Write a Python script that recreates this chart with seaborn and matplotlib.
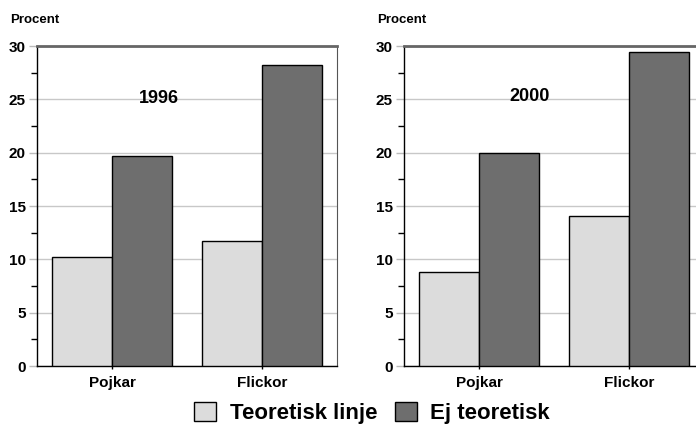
import matplotlib
matplotlib.use("Agg")
import matplotlib.pyplot as plt
from matplotlib.patches import Patch
from matplotlib.ticker import MultipleLocator
import pandas as pd
import seaborn as sns

groups = ["Pojkar", "Flickor"]
series = ["Teoretisk linje", "Ej teoretisk"]
years = ["1996", "2000"]
values_1996 = {"Teoretisk linje": [10.2, 11.7], "Ej teoretisk": [19.7, 28.2]}
values_2000 = {"Teoretisk linje": [8.8, 14.1], "Ej teoretisk": [20.0, 29.4]}
colors = ["#dcdcdc", "#6e6e6e"]
yticks = [0, 5, 10, 15, 20, 25, 30]

sns.set_theme(style="white")
plt.rcParams["font.family"] = ["Liberation Sans", "DejaVu Sans"]
plt.rcParams["font.weight"] = "bold"
plt.rcParams["text.color"] = "black"
plt.rcParams["xtick.color"] = "black"
plt.rcParams["ytick.color"] = "black"
plt.rcParams["xtick.labelcolor"] = "black"
plt.rcParams["ytick.labelcolor"] = "black"

W, H = 696, 426
fig = plt.figure(figsize=(W / 100, H / 100), dpi=100)

def make_df(vals):
    rows = []
    for s in series:
        for g, v in zip(groups, vals[s]):
            rows.append({"grupp": g, "serie": s, "procent": v})
    return pd.DataFrame(rows)

panels = [(37, values_1996, years[0], (0.31, 25.1)),
          (404, values_2000, years[1], (0.34, 25.3))]

for left, vals, year, tpos in panels:
    ax = fig.add_axes([left / W, (H - 366) / H, 300 / W, 320 / H])
    sns.barplot(data=make_df(vals), x="grupp", y="procent", hue="serie",
                order=groups, hue_order=series, palette=colors,
                edgecolor="black", linewidth=1.0, width=0.8,
                saturation=1, legend=False, ax=ax, zorder=3)
    ax.set_xlim(-0.5, 1.5)
    ax.set_ylim(0, 30)
    ax.set_yticks(yticks)
    ax.yaxis.set_minor_locator(MultipleLocator(2.5))
    ax.grid(axis="y", which="major", color="#c8c8c8", linewidth=1.0, zorder=0)
    ax.set_axisbelow(True)
    ax.set_xlabel("")
    ax.set_ylabel("")
    ax.tick_params(axis="y", which="major", length=6, width=1.0, color="#bbbbbb",
                   labelsize=11, pad=2, left=True, labelcolor="black")
    ax.tick_params(axis="y", which="minor", length=4, width=1.0, color="black", left=True)
    ax.tick_params(axis="x", which="major", length=5, width=1.0, color="black",
                   labelsize=11, pad=5, bottom=True, direction="inout", labelcolor="black")
    for lab in ax.get_yticklabels() + ax.get_xticklabels():
        lab.set_fontweight("bold")
    ax.spines["left"].set_color("black")
    ax.spines["left"].set_linewidth(1.0)
    ax.spines["bottom"].set_color("black")
    ax.spines["bottom"].set_linewidth(1.0)
    ax.spines["top"].set_color("#666666")
    ax.spines["top"].set_linewidth(2.0)
    ax.spines["right"].set_color("#555555")
    ax.spines["right"].set_linewidth(0.8)
    ax.text(tpos[0], tpos[1], year, ha="center", va="center", color="black",
            fontsize=13, fontweight="bold", zorder=5)
    fig.text((left - 27) / W, 1 - 20 / H, "Procent", ha="left", va="center",
             fontsize=9.5, fontweight="bold", color="black")

handles = [Patch(facecolor=c, edgecolor="black", linewidth=1.0) for c in colors]
fig.legend(handles, series, loc="center", bbox_to_anchor=(372 / W, 1 - 413 / H),
           ncol=2, frameon=False, prop={"size": 16, "weight": "bold"},
           handlelength=1.0, handleheight=0.9, handletextpad=0.6,
           columnspacing=0.8, borderpad=0.0, labelcolor="black")

fig.savefig("out.png", dpi=100)
